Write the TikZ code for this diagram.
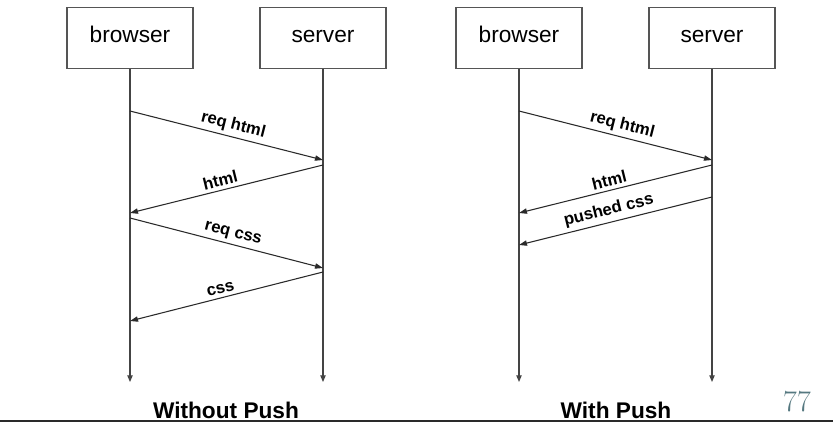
\documentclass[tikz,border=0pt]{standalone}
\usepackage{xcolor}
\usepackage{fontspec}
\setsansfont{Liberation Sans}
\usepackage{tikz}
\usetikzlibrary{positioning, arrows.meta}

\definecolor{boxline}{HTML}{555555}
\definecolor{lifeline}{HTML}{444444}
\definecolor{msgline}{HTML}{2A2A2A}
\definecolor{pagecol}{HTML}{557880}

\begin{document}
\begin{tikzpicture}[
  x=0.75pt, y=-0.75pt,
  font=\sffamily,
  actor/.style={draw=boxline, line width=0.8pt, fill=white,
    minimum width=94.5pt, minimum height=45.75pt,
    text height=0.8em, text depth=0.2em,
    font=\sffamily\fontsize{17}{20}\selectfont},
  life/.style={draw=lifeline, line width=0.8pt,
    -{Triangle[length=5pt, width=4pt]}},
  msg/.style={draw=msgline, line width=0.8pt,
    -{Triangle[length=6pt, width=4pt]}},
  lbl/.style={sloped, above, pos=0.52, inner sep=2.6pt,
    font=\sffamily\bfseries\fontsize{12.5}{14}\selectfont},
  title/.style={anchor=base, font=\sffamily\bfseries\fontsize{17}{20}\selectfont},
  pagenum/.style={text=pagecol, font=\rmfamily\fontsize{22.5}{24}\selectfont},
]
  \useasboundingbox (0,0) rectangle (833,422);

  % without push
  \node[actor] (b1) at (130,38) {browser};
  \node[actor] (s1) at (323,38) {server};
  \coordinate (b1end) at (130,382);
  \coordinate (s1end) at (323,382);
  \draw[life] (b1) -- (b1end);
  \draw[life] (s1) -- (s1end);

  \coordinate (b1a) at (130,111); \coordinate (s1a) at (323,160);
  \coordinate (s1b) at (323,165); \coordinate (b1b) at (130,213);
  \coordinate (b1c) at (130,218); \coordinate (s1c) at (323,268);
  \coordinate (s1d) at (323,272); \coordinate (b1d) at (130,321);

  \draw[msg] (b1a) -- node[lbl] {req html} (s1a);
  \draw[msg] (s1b) -- node[lbl] {html} (b1b);
  \draw[msg] (b1c) -- node[lbl] {req css} (s1c);
  \draw[msg] (s1d) -- node[lbl] {css} (b1d);

  \node[title] (t1) at (226,418) {Without Push};

  % with push
  \node[actor] (b2) at (519,38) {browser};
  \node[actor] (s2) at (712,38) {server};
  \coordinate (b2end) at (519,382);
  \coordinate (s2end) at (712,382);
  \draw[life] (b2) -- (b2end);
  \draw[life] (s2) -- (s2end);

  \coordinate (b2a) at (519,111); \coordinate (s2a) at (712,160);
  \coordinate (s2b) at (712,165); \coordinate (b2b) at (519,213);
  \coordinate (s2c) at (712,197); \coordinate (b2c) at (519,245);

  \draw[msg] (b2a) -- node[lbl] {req html} (s2a);
  \draw[msg] (s2b) -- node[lbl] {html} (b2b);
  \draw[msg] (s2c) -- node[lbl] {pushed css} (b2c);

  \node[title] (t2) at (616,418) {With Push};

  % page
  \node[pagenum] (page) at (797,402) {77};
  \draw[draw=msgline, line width=1.1pt] (0,421) -- (833,421);
\end{tikzpicture}
\end{document}
